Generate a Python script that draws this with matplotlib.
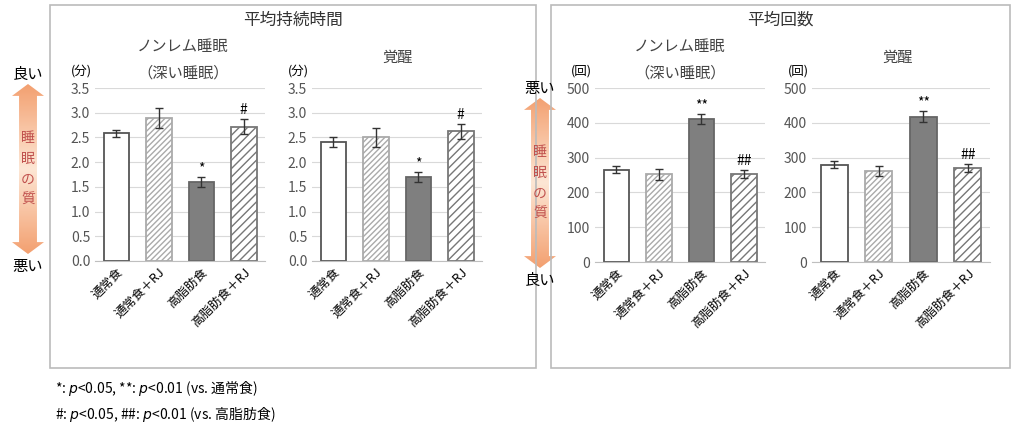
import numpy as np
import matplotlib.pyplot as plt
from matplotlib.patches import Rectangle, Polygon

plt.rcParams["font.family"] = ["Noto Sans CJK JP", "DejaVu Sans"]
plt.rcParams["hatch.linewidth"] = 1.0

groups = ["通常食", "通常食＋RJ", "高脂肪食", "高脂肪食＋RJ"]

# 平均持続時間 (分)
dur_nrem = [2.58, 2.90, 1.60, 2.72]
dur_nrem_err = [0.08, 0.20, 0.10, 0.16]
dur_wake = [2.40, 2.50, 1.70, 2.62]
dur_wake_err = [0.10, 0.20, 0.10, 0.16]
# 平均回数 (回)
cnt_nrem = [265, 252, 410, 253]
cnt_nrem_err = [10, 16, 14, 12]
cnt_wake = [280, 262, 418, 270]
cnt_wake_err = [10, 15, 15, 12]

marks_dur_nrem = ["", "", "*", "#"]
marks_dur_wake = ["", "", "*", "#"]
marks_cnt_nrem = ["", "", "**", "##"]
marks_cnt_wake = ["", "", "**", "##"]

W, H = 1016, 442
fig = plt.figure(figsize=(W / 100, H / 100), dpi=100)

def px(x0, y0, x1, y1):
    return [x0 / W, 1 - y1 / H, (x1 - x0) / W, (y1 - y0) / H]

def ftext(x, y, s, **kw):
    fig.text(x / W, 1 - y / H, s, **kw)

# frames
for x0, x1, title in [(50, 536, "平均持続時間"), (551, 1010, "平均回数")]:
    fig.patches.append(Rectangle((x0 / W, 1 - 368 / H), (x1 - x0) / W, 363 / H,
                                 transform=fig.transFigure, fill=False,
                                 edgecolor="#bbbbbb", lw=1.2))
    ftext((x0 + x1) / 2, 20, title, ha="center", va="center", fontsize=12,
          fontweight="normal", color="#333333")

styles = [
    dict(facecolor="white", edgecolor="#555555", hatch=None),
    dict(facecolor="white", edgecolor="#aaaaaa", hatch="//////"),
    dict(facecolor="#7f7f7f", edgecolor="#666666", hatch=None),
    dict(facecolor="white", edgecolor="#777777", hatch="////"),
]

def panel(rect, vals, errs, marks, ymax, step, unit):
    ax = fig.add_axes(px(*rect))
    x = np.arange(len(groups))
    for i in x:
        ax.bar(i, vals[i], width=0.6, linewidth=1.3, **styles[i])
    ax.errorbar(x, vals, yerr=errs, fmt="none", ecolor="#333333", capsize=3, lw=1)
    for i in x:
        if marks[i]:
            ax.text(i, vals[i] + errs[i] + ymax * 0.01, marks[i], ha="center",
                    va="bottom", fontsize=10)
    ax.set_xlim(-0.5, 3.5)
    ax.set_ylim(0, ymax)
    ticks = np.arange(0, ymax + step / 2, step)
    ax.set_yticks(ticks)
    if ymax < 10:
        ax.set_yticklabels([f"{v:.1f}" for v in ticks])
    ax.set_xticks(x)
    ax.set_xticklabels(groups, rotation=45, ha="right", rotation_mode="anchor", fontsize=9)
    ax.tick_params(axis="y", labelsize=10, colors="#555555", length=0)
    ax.tick_params(axis="x", length=0)
    ax.yaxis.grid(True, color="#d9d9d9", lw=0.8)
    ax.set_axisbelow(True)
    for s in ["top", "right", "left"]:
        ax.spines[s].set_visible(False)
    ax.spines["bottom"].set_color("#bfbfbf")
    ax.text(-0.02, 1.06, unit, transform=ax.transAxes, ha="right", va="bottom", fontsize=9)
    return ax

panel((95, 88, 265, 261), dur_nrem, dur_nrem_err, marks_dur_nrem, 3.5, 0.5, "(分)")
panel((312, 88, 482, 261), dur_wake, dur_wake_err, marks_dur_wake, 3.5, 0.5, "(分)")
panel((595, 88, 765, 262), cnt_nrem, cnt_nrem_err, marks_cnt_nrem, 500, 100, "(回)")
panel((812, 88, 990, 262), cnt_wake, cnt_wake_err, marks_cnt_wake, 500, 100, "(回)")

for xc, s, y in [(183, "ノンレム睡眠", 47), (183, "（深い睡眠）", 73), (398, "覚醒", 57),
                 (680, "ノンレム睡眠", 47), (680, "（深い睡眠）", 73), (898, "覚醒", 57)]:
    ftext(xc, y, s, ha="center", va="center", fontsize=11, color="#444444")

# gradient arrows
cmap = plt.matplotlib.colors.LinearSegmentedColormap.from_list("o", ["#fde6d4", "#f3a070"])

def arrow(xc, y0, y1, dark_top, top, bottom):
    ax = fig.add_axes(px(xc - 16, y0, xc + 16, y1))
    ax.set_xlim(0, 1)
    ax.set_ylim(0, 1)
    ax.axis("off")
    grad = np.abs(np.linspace(-1, 1, 256))[:, None]
    img = ax.imshow(grad, extent=[0, 1, 0, 1], aspect="auto", cmap=cmap, zorder=1)
    poly = Polygon([(0.5, 1), (1.0, 0.93), (0.78, 0.93), (0.78, 0.07), (1.0, 0.07),
                    (0.5, 0), (0.0, 0.07), (0.22, 0.07), (0.22, 0.93), (0.0, 0.93)],
                   closed=True, transform=ax.transData, facecolor="none", edgecolor="none")
    ax.add_patch(poly)
    img.set_clip_path(poly)
    ftext(xc, y0 - 10, top, ha="center", va="center", fontsize=11)
    ftext(xc, y1 + 12, bottom, ha="center", va="center", fontsize=11)
    ftext(xc, (y0 + y1) / 2, "睡\n眠\nの\n質", ha="center", va="center",
          fontsize=10, color="#c0504d", linespacing=1.6)

arrow(28, 84, 254, True, "良い", "悪い")
arrow(540, 98, 268, False, "悪い", "良い")

ftext(55, 389, "*: $p$<0.05, **: $p$<0.01 (vs. 通常食)", fontsize=10, va="center")
ftext(55, 414, "#: $p$<0.05, ##: $p$<0.01 (vs. 高脂肪食)", fontsize=10, va="center")

fig.savefig("out.png", dpi=100)
